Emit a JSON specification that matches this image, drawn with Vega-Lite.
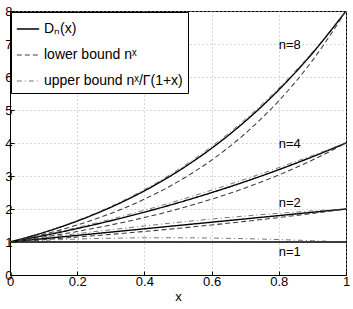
{
  "$schema": "https://vega.github.io/schema/vega-lite/v6.json",
  "width": 336,
  "height": 264,
  "autosize": "none",
  "padding": {"left": 10, "top": 11, "right": 7, "bottom": 34},
  "background": "white",
  "config": {
    "font": "Liberation Sans",
    "view": {"stroke": "black", "strokeWidth": 1},
    "axis": {
      "domainColor": "black",
      "tickColor": "black",
      "tickSize": -4,
      "labelColor": "black",
      "labelFontSize": 13,
      "labelOverlap": false,
      "titleFontSize": 13,
      "titleFontWeight": "normal",
      "titleColor": "black",
      "gridColor": "#b0b0b0",
      "gridDash": [1, 3],
      "gridWidth": 1
    }
  },
  "datasets": {
    "curves": [
      {"n": "1", "k": "D", "x": 0, "y": 1}, {"n": "1", "k": "D", "x": 0.1, "y": 1}, {"n": "1", "k": "D", "x": 0.2, "y": 1}, {"n": "1", "k": "D", "x": 0.3, "y": 1}, {"n": "1", "k": "D", "x": 0.4, "y": 1}, {"n": "1", "k": "D", "x": 0.5, "y": 1}, {"n": "1", "k": "D", "x": 0.6, "y": 1}, {"n": "1", "k": "D", "x": 0.7, "y": 1}, {"n": "1", "k": "D", "x": 0.8, "y": 1}, {"n": "1", "k": "D", "x": 0.9, "y": 1}, {"n": "1", "k": "D", "x": 1, "y": 1},
      {"n": "1", "k": "L", "x": 0, "y": 1}, {"n": "1", "k": "L", "x": 0.1, "y": 1}, {"n": "1", "k": "L", "x": 0.2, "y": 1}, {"n": "1", "k": "L", "x": 0.3, "y": 1}, {"n": "1", "k": "L", "x": 0.4, "y": 1}, {"n": "1", "k": "L", "x": 0.5, "y": 1}, {"n": "1", "k": "L", "x": 0.6, "y": 1}, {"n": "1", "k": "L", "x": 0.7, "y": 1}, {"n": "1", "k": "L", "x": 0.8, "y": 1}, {"n": "1", "k": "L", "x": 0.9, "y": 1}, {"n": "1", "k": "L", "x": 1, "y": 1},
      {"n": "1", "k": "U", "x": 0, "y": 1}, {"n": "1", "k": "U", "x": 0.1, "y": 1.05114}, {"n": "1", "k": "U", "x": 0.2, "y": 1.08912}, {"n": "1", "k": "U", "x": 0.3, "y": 1.11424}, {"n": "1", "k": "U", "x": 0.4, "y": 1.12706}, {"n": "1", "k": "U", "x": 0.5, "y": 1.12838}, {"n": "1", "k": "U", "x": 0.6, "y": 1.11917}, {"n": "1", "k": "U", "x": 0.7, "y": 1.10055}, {"n": "1", "k": "U", "x": 0.8, "y": 1.07367}, {"n": "1", "k": "U", "x": 0.9, "y": 1.03975}, {"n": "1", "k": "U", "x": 1, "y": 1},
      {"n": "2", "k": "D", "x": 0, "y": 1}, {"n": "2", "k": "D", "x": 0.1, "y": 1.1}, {"n": "2", "k": "D", "x": 0.2, "y": 1.2}, {"n": "2", "k": "D", "x": 0.3, "y": 1.3}, {"n": "2", "k": "D", "x": 0.4, "y": 1.4}, {"n": "2", "k": "D", "x": 0.5, "y": 1.5}, {"n": "2", "k": "D", "x": 0.6, "y": 1.6}, {"n": "2", "k": "D", "x": 0.7, "y": 1.7}, {"n": "2", "k": "D", "x": 0.8, "y": 1.8}, {"n": "2", "k": "D", "x": 0.9, "y": 1.9}, {"n": "2", "k": "D", "x": 1, "y": 2},
      {"n": "2", "k": "L", "x": 0, "y": 1}, {"n": "2", "k": "L", "x": 0.1, "y": 1.07177}, {"n": "2", "k": "L", "x": 0.2, "y": 1.1487}, {"n": "2", "k": "L", "x": 0.3, "y": 1.23114}, {"n": "2", "k": "L", "x": 0.4, "y": 1.31951}, {"n": "2", "k": "L", "x": 0.5, "y": 1.41421}, {"n": "2", "k": "L", "x": 0.6, "y": 1.51572}, {"n": "2", "k": "L", "x": 0.7, "y": 1.6245}, {"n": "2", "k": "L", "x": 0.8, "y": 1.7411}, {"n": "2", "k": "L", "x": 0.9, "y": 1.86607}, {"n": "2", "k": "L", "x": 1, "y": 2},
      {"n": "2", "k": "U", "x": 0, "y": 1}, {"n": "2", "k": "U", "x": 0.1, "y": 1.12658}, {"n": "2", "k": "U", "x": 0.2, "y": 1.25107}, {"n": "2", "k": "U", "x": 0.3, "y": 1.37179}, {"n": "2", "k": "U", "x": 0.4, "y": 1.48717}, {"n": "2", "k": "U", "x": 0.5, "y": 1.59577}, {"n": "2", "k": "U", "x": 0.6, "y": 1.69635}, {"n": "2", "k": "U", "x": 0.7, "y": 1.78784}, {"n": "2", "k": "U", "x": 0.8, "y": 1.86937}, {"n": "2", "k": "U", "x": 0.9, "y": 1.94025}, {"n": "2", "k": "U", "x": 1, "y": 2},
      {"n": "4", "k": "D", "x": 0, "y": 1}, {"n": "4", "k": "D", "x": 0.1, "y": 1.1935}, {"n": "4", "k": "D", "x": 0.2, "y": 1.408}, {"n": "4", "k": "D", "x": 0.3, "y": 1.6445}, {"n": "4", "k": "D", "x": 0.4, "y": 1.904}, {"n": "4", "k": "D", "x": 0.5, "y": 2.1875}, {"n": "4", "k": "D", "x": 0.6, "y": 2.496}, {"n": "4", "k": "D", "x": 0.7, "y": 2.8305}, {"n": "4", "k": "D", "x": 0.8, "y": 3.192}, {"n": "4", "k": "D", "x": 0.9, "y": 3.5815}, {"n": "4", "k": "D", "x": 1, "y": 4},
      {"n": "4", "k": "L", "x": 0, "y": 1}, {"n": "4", "k": "L", "x": 0.1, "y": 1.1487}, {"n": "4", "k": "L", "x": 0.2, "y": 1.31951}, {"n": "4", "k": "L", "x": 0.3, "y": 1.51572}, {"n": "4", "k": "L", "x": 0.4, "y": 1.7411}, {"n": "4", "k": "L", "x": 0.5, "y": 2}, {"n": "4", "k": "L", "x": 0.6, "y": 2.2974}, {"n": "4", "k": "L", "x": 0.7, "y": 2.63902}, {"n": "4", "k": "L", "x": 0.8, "y": 3.03143}, {"n": "4", "k": "L", "x": 0.9, "y": 3.4822}, {"n": "4", "k": "L", "x": 1, "y": 4},
      {"n": "4", "k": "U", "x": 0, "y": 1}, {"n": "4", "k": "U", "x": 0.1, "y": 1.20745}, {"n": "4", "k": "U", "x": 0.2, "y": 1.43711}, {"n": "4", "k": "U", "x": 0.3, "y": 1.68888}, {"n": "4", "k": "U", "x": 0.4, "y": 1.96233}, {"n": "4", "k": "U", "x": 0.5, "y": 2.25676}, {"n": "4", "k": "U", "x": 0.6, "y": 2.57118}, {"n": "4", "k": "U", "x": 0.7, "y": 2.90437}, {"n": "4", "k": "U", "x": 0.8, "y": 3.25475}, {"n": "4", "k": "U", "x": 0.9, "y": 3.62062}, {"n": "4", "k": "U", "x": 1, "y": 4},
      {"n": "8", "k": "D", "x": 0, "y": 1}, {"n": "8", "k": "D", "x": 0.1, "y": 1.28672}, {"n": "8", "k": "D", "x": 0.2, "y": 1.63419}, {"n": "8", "k": "D", "x": 0.3, "y": 2.05195}, {"n": "8", "k": "D", "x": 0.4, "y": 2.55062}, {"n": "8", "k": "D", "x": 0.5, "y": 3.14208}, {"n": "8", "k": "D", "x": 0.6, "y": 3.83945}, {"n": "8", "k": "D", "x": 0.7, "y": 4.65716}, {"n": "8", "k": "D", "x": 0.8, "y": 5.61121}, {"n": "8", "k": "D", "x": 0.9, "y": 6.71907}, {"n": "8", "k": "D", "x": 1, "y": 8},
      {"n": "8", "k": "L", "x": 0, "y": 1}, {"n": "8", "k": "L", "x": 0.1, "y": 1.23114}, {"n": "8", "k": "L", "x": 0.2, "y": 1.51572}, {"n": "8", "k": "L", "x": 0.3, "y": 1.86607}, {"n": "8", "k": "L", "x": 0.4, "y": 2.2974}, {"n": "8", "k": "L", "x": 0.5, "y": 2.82843}, {"n": "8", "k": "L", "x": 0.6, "y": 3.4822}, {"n": "8", "k": "L", "x": 0.7, "y": 4.28709}, {"n": "8", "k": "L", "x": 0.8, "y": 5.27803}, {"n": "8", "k": "L", "x": 0.9, "y": 6.49802}, {"n": "8", "k": "L", "x": 1, "y": 8},
      {"n": "8", "k": "U", "x": 0, "y": 1}, {"n": "8", "k": "U", "x": 0.1, "y": 1.2941}, {"n": "8", "k": "U", "x": 0.2, "y": 1.6508}, {"n": "8", "k": "U", "x": 0.3, "y": 2.07925}, {"n": "8", "k": "U", "x": 0.4, "y": 2.58931}, {"n": "8", "k": "U", "x": 0.5, "y": 3.19154}, {"n": "8", "k": "U", "x": 0.6, "y": 3.89718}, {"n": "8", "k": "U", "x": 0.7, "y": 4.71816}, {"n": "8", "k": "U", "x": 0.8, "y": 5.66686}, {"n": "8", "k": "U", "x": 0.9, "y": 6.75632}, {"n": "8", "k": "U", "x": 1, "y": 8}
    ],
    "labels": [
      {"x": 0.8, "y": 6.97, "t": "n=8"},
      {"x": 0.8, "y": 3.97, "t": "n=4"},
      {"x": 0.8, "y": 2.18, "t": "n=2"},
      {"x": 0.8, "y": 0.7, "t": "n=1"}
    ]
  },
  "encoding": {
    "x": {
      "field": "x", "type": "quantitative",
      "scale": {"domain": [0, 1], "nice": false, "zero": false},
      "axis": {"values": [0, 0.2, 0.4, 0.6, 0.8, 1], "format": "~g", "title": "x", "titlePadding": 2, "labelPadding": 4, "labelFlush": false}
    },
    "y": {
      "field": "y", "type": "quantitative",
      "scale": {"domain": [0, 8], "nice": false},
      "axis": {"values": [0, 1, 2, 3, 4, 5, 6, 7, 8], "title": null, "labelPadding": 2, "labelFlush": false}
    }
  },
  "layer": [
    {
      "data": {"name": "curves"},
      "mark": {"type": "line", "interpolate": "monotone", "clip": true},
      "encoding": {
        "detail": {"field": "n"},
        "color": {
          "field": "k", "type": "nominal",
          "scale": {"domain": ["D", "L", "U"], "range": ["black", "#3c3c3c", "#3c3c3c"]},
          "legend": {
            "title": null,
            "orient": "top-left",
            "offset": 1,
            "labelExpr": "datum.value == 'D' ? 'Dₙ(x)' : datum.value == 'L' ? 'lower bound nˣ' : 'upper bound nˣ/Γ(1+x)'",
            "labelFontSize": 14,
            "labelColor": "black",
            "symbolType": "stroke",
            "symbolSize": 500,
            "symbolStrokeWidth": 1.2,
            "strokeColor": "black",
            "fillColor": "white",
            "padding": 5,
            "rowPadding": 7,
            "cornerRadius": 0
          }
        },
        "strokeDash": {
          "field": "k", "type": "nominal",
          "scale": {"domain": ["D", "L", "U"], "range": [[1, 0], [5, 3], [5, 3, 1, 3]]},
          "legend": {"title": null}
        },
        "strokeWidth": {
          "field": "k", "type": "nominal",
          "scale": {"domain": ["D", "L", "U"], "range": [1.4, 0.7, 0.7]},
          "legend": {"title": null}
        }
      }
    },
    {
      "data": {"name": "labels"},
      "mark": {"type": "text", "align": "left", "baseline": "middle", "fontSize": 13, "color": "black"},
      "encoding": {
        "text": {"field": "t"}
      }
    }
  ]
}
